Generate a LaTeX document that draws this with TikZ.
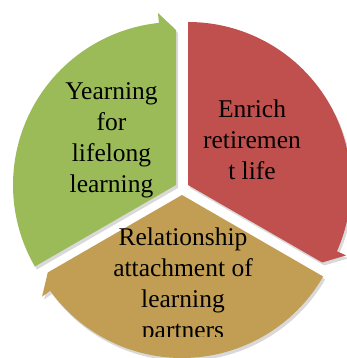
\documentclass[tikz,border=0pt]{standalone}
\usepackage{fontspec}
\setmainfont{Liberation Serif}
\usetikzlibrary{shadows}
\definecolor{segGreen}{RGB}{155,187,89}
\definecolor{segRed}{RGB}{192,80,77}
\definecolor{segGold}{RGB}{194,158,84}
\begin{document}
\begin{tikzpicture}[x=1pt,y=1pt,
  seg/.style={drop shadow={shadow xshift=2pt,shadow yshift=-3pt,opacity=.3}},
  lbl/.style={align=center,anchor=base,font=\fontsize{25.5}{31}\selectfont}]
\useasboundingbox (0,0) rectangle (346,358);
\begin{scope}[shift={(182,163)}]
 \fill[segGold,seg] (0,0) --(330:163) arc[start angle=330,end angle=216,radius=163] --(216:173) --(210:155) --cycle;
\end{scope}
\begin{scope}[shift={(176,173)}]
 \fill[segGreen,seg] (0,0) --(210:163) arc[start angle=210,end angle=96,radius=163] --(96:173) --(90:155) --cycle;
\end{scope}
\begin{scope}[shift={(188,173)}]
 \fill[segRed,seg] (0,0) --(90:163) arc[start angle=90,end angle=-24,radius=163] --(-24:173) --(-30:155) --cycle;
\end{scope}
\node[lbl] (yearn) at (111.5,165) {Yearning\\for\\lifelong\\learning};
\node[lbl] (enrich) at (252,178) {Enrich\\retiremen\\t life};
\begin{scope}
 \clip (0,21) rectangle (346,358);
 \node[lbl] (partner) at (183,19) {Relationship\\attachment of\\learning\\partners};
\end{scope}
\end{tikzpicture}
\end{document}
